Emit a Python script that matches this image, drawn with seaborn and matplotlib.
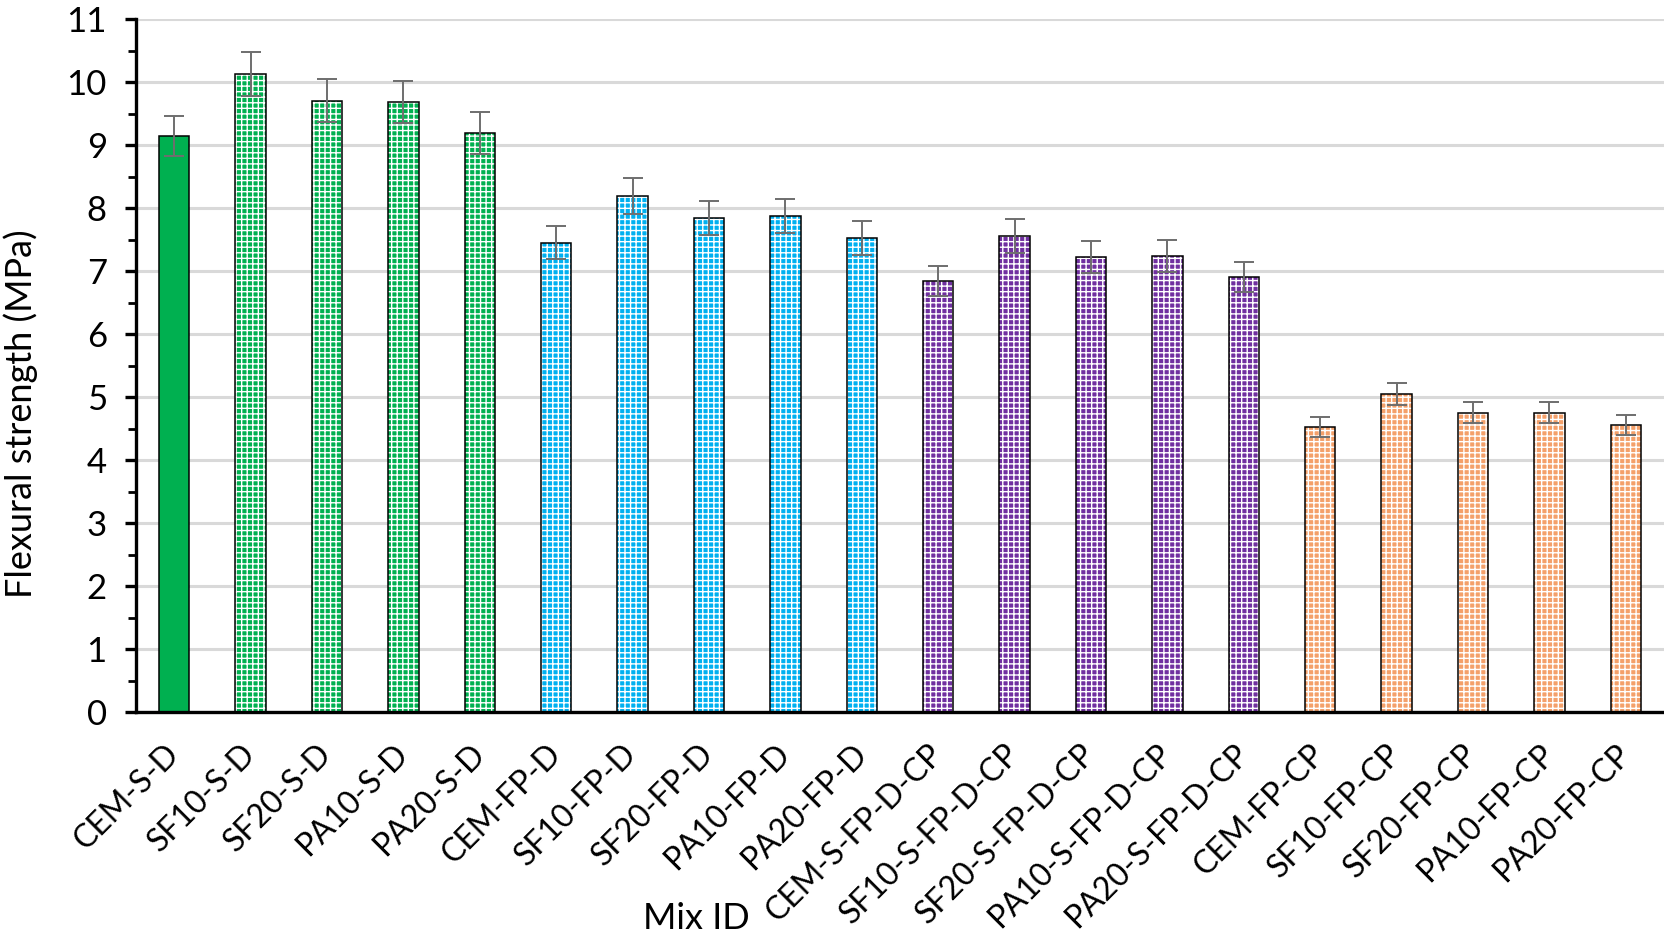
import matplotlib
matplotlib.use("Agg")
import matplotlib.pyplot as plt
import seaborn as sns
import numpy as np
import pandas as pd

mix_ids = ["CEM-S-D", "SF10-S-D", "SF20-S-D", "PA10-S-D", "PA20-S-D",
           "CEM-FP-D", "SF10-FP-D", "SF20-FP-D", "PA10-FP-D", "PA20-FP-D",
           "CEM-S-FP-D-CP", "SF10-S-FP-D-CP", "SF20-S-FP-D-CP", "PA10-S-FP-D-CP", "PA20-S-FP-D-CP",
           "CEM-FP-CP", "SF10-FP-CP", "SF20-FP-CP", "PA10-FP-CP", "PA20-FP-CP"]
strength = [9.14, 10.13, 9.70, 9.68, 9.19,
            7.45, 8.19, 7.84, 7.87, 7.53,
            6.84, 7.55, 7.22, 7.24, 6.90,
            4.53, 5.05, 4.75, 4.75, 4.56]
errors = [0.32, 0.35, 0.34, 0.33, 0.33,
          0.26, 0.29, 0.27, 0.27, 0.27,
          0.24, 0.27, 0.25, 0.25, 0.24,
          0.16, 0.17, 0.17, 0.17, 0.16]
groups = ["S-D"] * 5 + ["FP-D"] * 5 + ["S-FP-D-CP"] * 5 + ["FP-CP"] * 5
group_colors = {"S-D": "#00B050", "FP-D": "#00B0F0", "S-FP-D-CP": "#7030A0", "FP-CP": "#F4A06A"}
y_ticks = list(range(0, 12))

df = pd.DataFrame({"mix": mix_ids, "strength": strength, "group": groups})

sns.set_theme(style="white")
plt.rcParams["font.family"] = ["Lato", "DejaVu Sans"]
plt.rcParams["hatch.linewidth"] = 1.0

fig = plt.figure(figsize=(16.64, 9.42), dpi=100)
ax = fig.add_axes([136 / 1664, 1 - 712 / 942, 1 - 136 / 1664, (712 - 19) / 942])

sns.barplot(data=df, x="mix", y="strength", hue="group", palette=group_colors,
            dodge=False, width=0.4, legend=False, errorbar=None, ax=ax,
            saturation=1, edgecolor="black", linewidth=1.1, zorder=3)

# checker-like white hatching on all bars except the first (solid)
bars_sorted = sorted(ax.patches, key=lambda p: p.get_x())
for i, p in enumerate(bars_sorted):
    if i == 0:
        continue
    p.set_hatch("+++")
    p._hatch_color = (1, 1, 1, 1)

ax.errorbar(x=np.arange(len(mix_ids)), y=strength, yerr=errors, fmt="none",
            ecolor="#6e6e6e", elinewidth=1.4, capsize=7, capthick=1.4, zorder=4)

ax.set_xlim(-0.5, len(mix_ids) - 0.5)
ax.set_ylim(0, 11)
ax.set_yticks(y_ticks)
ax.set_yticks(np.arange(0.5, 11, 1.0), minor=True)
ax.yaxis.grid(True, which="major", color="#d9d9d9", linewidth=2.2, zorder=0)
ax.set_axisbelow(True)

for s in ["top", "right"]:
    ax.spines[s].set_visible(False)
for s in ["left", "bottom"]:
    ax.spines[s].set_color("black")
    ax.spines[s].set_linewidth(2.4)
    ax.spines[s].set_zorder(5)

ax.tick_params(axis="y", which="major", direction="out", length=8, width=2.4,
               color="black", labelsize=25, pad=13, left=True)
ax.tick_params(axis="y", which="minor", direction="out", length=6, width=2.0,
               color="black", left=True)
ax.tick_params(axis="x", which="both", length=0, labelsize=23, pad=27)

ax.set_xticks(np.arange(len(mix_ids)))
ax.set_xticklabels(mix_ids, rotation=45, ha="right", va="center", rotation_mode="anchor")

ax.set_ylabel("Flexural strength (MPa)", fontsize=26, color="black")
ax.set_xlabel("Mix ID", fontsize=26, color="black")
ax.yaxis.set_label_coords(-0.064, 0.43)
ax.xaxis.set_label_coords(0.367, -0.274)

for t in ax.get_xticklabels() + ax.get_yticklabels():
    t.set_color("black")

fig.savefig("out.png", dpi=100, facecolor="white")
